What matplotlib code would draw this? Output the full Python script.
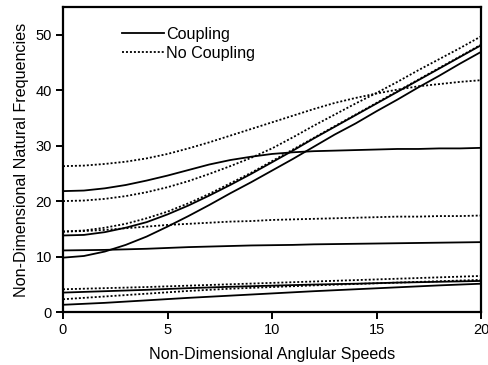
import matplotlib
matplotlib.use("Agg")
import matplotlib.pyplot as plt

plt.rcParams['font.family'] = ['Liberation Sans', 'DejaVu Sans']

speeds = list(range(0, 21))
speeds_coarse = list(range(0, 21, 2))

# Coupling (solid)
coup_1 = [1.3, 1.65, 2.1, 2.55, 2.95, 3.35, 3.75, 4.1, 4.45, 4.8, 5.1]
coup_2 = [3.5, 3.75, 4.0, 4.3, 4.55, 4.75, 4.95, 5.1, 5.3, 5.45, 5.6]
coup_3 = [9.8, 10.1, 10.9, 12.1, 13.6, 15.4, 17.3, 19.3, 21.4, 23.4, 25.5,
          27.6, 29.8, 32.0, 34.0, 36.2, 38.3, 40.5, 42.6, 44.8, 46.9]
coup_4 = [11.1, 11.15, 11.2, 11.3, 11.4, 11.55, 11.7, 11.8, 11.9, 12.0, 12.05,
          12.1, 12.2, 12.25, 12.3, 12.35, 12.4, 12.45, 12.5, 12.55, 12.6]
coup_5 = [13.8, 13.9, 14.4, 15.2, 16.2, 17.6, 19.2, 21.0, 22.9, 24.9, 27.0,
          29.1, 31.3, 33.4, 35.5, 37.6, 39.7, 41.8, 43.9, 46.0, 48.1]
coup_6 = [21.8, 21.9, 22.3, 22.9, 23.7, 24.6, 25.6, 26.6, 27.4, 28.0, 28.5,
          28.8, 29.0, 29.1, 29.2, 29.3, 29.4, 29.4, 29.5, 29.5, 29.6]

# No coupling (dotted)
noc_1 = [2.3, 2.8, 3.3, 3.8, 4.2, 4.5, 4.8, 5.05, 5.3, 5.55, 5.8]
noc_2 = [4.1, 4.3, 4.5, 4.75, 5.0, 5.25, 5.5, 5.75, 6.0, 6.25, 6.5]
noc_3 = [14.5, 14.6, 14.8, 15.1, 15.4, 15.7, 15.9, 16.1, 16.3, 16.4, 16.6,
         16.7, 16.8, 16.9, 17.0, 17.1, 17.2, 17.2, 17.3, 17.3, 17.4]
noc_4 = [20.0, 20.1, 20.4, 20.9, 21.6, 22.5, 23.6, 24.9, 26.3, 27.8, 29.5,
         31.5, 33.6, 35.6, 37.6, 39.5, 41.5, 43.6, 45.6, 47.6, 49.7]
noc_5 = [26.3, 26.4, 26.7, 27.1, 27.7, 28.5, 29.5, 30.6, 31.8, 33.0, 34.2,
         35.4, 36.6, 37.7, 38.6, 39.4, 40.1, 40.7, 41.1, 41.5, 41.8]
noc_6 = [14.5, 14.7, 15.2, 15.9, 16.9, 18.1, 19.6, 21.3, 23.2, 25.1, 27.2,
         29.3, 31.4, 33.5, 35.6, 37.7, 39.8, 41.9, 44.0, 46.1, 48.2]

x_ticks = [0, 5, 10, 15, 20]
y_ticks = [0, 10, 20, 30, 40, 50]

fig = plt.figure(figsize=(4.89, 3.65), dpi=100)
ax = fig.add_axes([63/489, 1-312/365, 418/489, 305/365])

solid_kw = dict(color='black', lw=1.3, linestyle='-')
dot_kw = dict(color='black', lw=1.3, linestyle=(0, (1.1, 1.1)))

ax.plot(speeds_coarse, coup_1, **solid_kw, label='Coupling')
ax.plot(speeds_coarse, coup_2, **solid_kw)
ax.plot(speeds, coup_3, **solid_kw)
ax.plot(speeds, coup_4, **solid_kw)
ax.plot(speeds, coup_5, **solid_kw)
ax.plot(speeds, coup_6, **solid_kw)

ax.plot(speeds_coarse, noc_1, **dot_kw, label='No Coupling')
ax.plot(speeds_coarse, noc_2, **dot_kw)
ax.plot(speeds, noc_3, **dot_kw)
ax.plot(speeds, noc_4, **dot_kw)
ax.plot(speeds, noc_5, **dot_kw)
ax.plot(speeds, noc_6, **dot_kw)

ax.set_xlim(0, 20)
ax.set_ylim(0, 55)
ax.set_xticks(x_ticks)
ax.set_yticks(y_ticks)
ax.tick_params(direction='out', length=5, width=1.4, labelsize=10.5, pad=3)
for s in ax.spines.values():
    s.set_linewidth(1.6)

ax.set_xlabel('Non-Dimensional Anglular Speeds', fontsize=11.6, labelpad=7)
ax.set_ylabel('Non-Dimensional Natural Frequencies', fontsize=11.6, labelpad=5)

leg = ax.legend(loc='upper left', bbox_to_anchor=(0.122, 0.962), frameon=False,
                fontsize=11.6, handlelength=2.6, handletextpad=0.15,
                labelspacing=0.25, borderpad=0.0)

fig.savefig('out.png', dpi=100)
